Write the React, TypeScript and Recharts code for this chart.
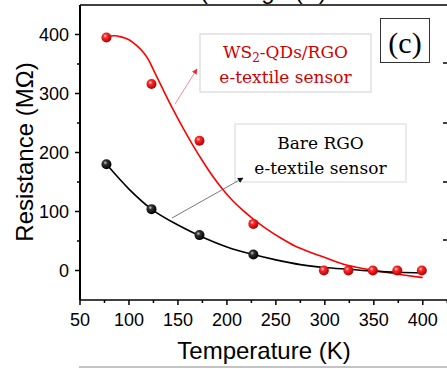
import { ComposedChart, Line, Scatter, XAxis, YAxis } from "recharts";

// measured points
const wsTemps = [77, 123, 172, 227, 299, 324, 349, 374, 399];
const wsRes = [395, 316, 220, 79, 0, 0, 0, 0, 0];
const rgoTemps = [77, 123, 172, 227];
const rgoRes = [180, 104, 60, 27];

// fit curves
const wsFitTemps = [77, 85, 92, 100, 108, 115, 120, 125, 135, 145, 155, 165, 175, 185, 195, 205, 215, 227, 240, 255, 270, 285, 300, 320, 340, 360, 380, 400];
const wsFitRes = [396, 398, 396, 391, 381, 369, 357, 340, 306, 273, 242, 213, 186, 161, 139, 120, 104, 87, 71, 55, 41, 31, 22, 10, 3, -2.5, -7.5, -12];
const rgoFitTemps = [77, 100, 123, 150, 172, 200, 227, 250, 275, 300, 325, 350, 375, 400];
const rgoFitRes = [180, 138, 104, 77, 59, 40, 27, 18, 10, 5, 2, -1, -3, -4];

const xTicks = [50, 75, 100, 125, 150, 175, 200, 225, 250, 275, 300, 325, 350, 375, 400, 425];
const yTicks = [0, 50, 100, 150, 200, 250, 300, 350, 400];
const topTicks = [1, 2, 3, 4, 5, 6, 7, 8, 9];

const zip = (xs: number[], ys: number[]) => xs.map((x, i) => ({ x, y: ys[i] }));
const wsPts = zip(wsTemps, wsRes);
const rgoPts = zip(rgoTemps, rgoRes);
const wsFit = zip(wsFitTemps, wsFitRes);
const rgoFit = zip(rgoFitTemps, rgoFitRes);

const sans = "'Liberation Sans', Arial, sans-serif";
const serif = "'DejaVu Serif', serif";

const BottomTick = (props: any) => {
  const { x, y, payload } = props;
  const major = payload.value % 50 === 0;
  return (
    <g>
      <line x1={x} x2={x} y1={y} y2={y + (major ? 5 : 3)} stroke="#000" strokeWidth={1.5} />
      {major && (
        <text x={x} y={y + 26} textAnchor="middle" fontSize={18} fontFamily={sans} fill="#000">
          {payload.value}
        </text>
      )}
    </g>
  );
};

const LeftTick = (props: any) => {
  const { x, y, payload } = props;
  const major = payload.value % 100 === 0;
  return (
    <g>
      <line x1={x} x2={x - (major ? 5 : 3)} y1={y} y2={y} stroke="#000" strokeWidth={1.5} />
      {major && (
        <text x={x - 11} y={y + 6.5} textAnchor="end" fontSize={18} fontFamily={sans} fill="#000">
          {payload.value}
        </text>
      )}
    </g>
  );
};

const TopTick = (props: any) => {
  const { x, y, payload } = props;
  const major = payload.value % 2 === 0;
  return <line x1={x} x2={x} y1={y} y2={y + (major ? 7 : 5)} stroke="#000" strokeWidth={1.5} />;
};

const Ball = (fill: string) => (props: any) =>
  <circle cx={props.cx} cy={props.cy} r={5} fill={fill} />;

export default function App() {
  return (
    <div style={{ position: "absolute", left: 0, top: 0, width: 447, height: 369, overflow: "hidden", background: "#fff" }}>
      <ComposedChart width={460} height={369} margin={{ top: 0, right: 0, bottom: 0, left: 0 }}>
        <defs>
          <radialGradient id="redBall" cx="38%" cy="35%" r="65%">
            <stop offset="0%" stopColor="#ffe0e0" />
            <stop offset="30%" stopColor="#ff2a2a" />
            <stop offset="100%" stopColor="#b00000" />
          </radialGradient>
          <radialGradient id="blackBall" cx="38%" cy="35%" r="65%">
            <stop offset="0%" stopColor="#d0d0d0" />
            <stop offset="30%" stopColor="#333" />
            <stop offset="100%" stopColor="#000" />
          </radialGradient>
        </defs>
        <XAxis
          dataKey="x"
          type="number"
          domain={[50, 438]}
          ticks={xTicks}
          interval={0}
          allowDataOverflow
          height={69}
          tickSize={0}
          tickMargin={0}
          tickLine={false}
          tick={BottomTick}
          axisLine={{ stroke: "#000", strokeWidth: 1.5 }}
        />
        <XAxis
          xAxisId="top"
          orientation="top"
          type="number"
          domain={[0, 380 / 37]}
          ticks={topTicks}
          interval={0}
          allowDataOverflow
          height={5}
          tickSize={0}
          tickMargin={0}
          tickLine={false}
          tick={TopTick}
          axisLine={{ stroke: "#000", strokeWidth: 1.5 }}
        />
        <YAxis
          type="number"
          domain={[-50, 450]}
          ticks={yTicks}
          interval={0}
          allowDataOverflow
          width={80}
          tickSize={0}
          tickMargin={0}
          tickLine={false}
          tick={LeftTick}
          axisLine={{ stroke: "#000", strokeWidth: 2 }}
        />
        <Line data={wsFit} dataKey="y" type="monotone" stroke="#ff0000" strokeWidth={1.6} dot={false} isAnimationActive={false} />
        <Line data={rgoFit} dataKey="y" type="monotone" stroke="#000" strokeWidth={1.6} dot={false} isAnimationActive={false} />
        <Scatter data={rgoPts} dataKey="y" shape={Ball("url(#blackBall)")} isAnimationActive={false} />
        <Scatter data={wsPts} dataKey="y" shape={Ball("url(#redBall)")} isAnimationActive={false} />
      </ComposedChart>
      <svg width={447} height={369} style={{ position: "absolute", left: 0, top: 0, pointerEvents: "none" }}>
        <defs>
          <marker id="arrRed" viewBox="0 0 10 10" refX="9" refY="5" markerWidth="7" markerHeight="7" orient="auto">
            <path d="M0,0 L10,5 L0,10 z" fill="#e83030" />
          </marker>
          <marker id="arrBlack" viewBox="0 0 10 10" refX="9" refY="5" markerWidth="7" markerHeight="7" orient="auto">
            <path d="M0,0 L10,5 L0,10 z" fill="#111" />
          </marker>
        </defs>
        <text x={200} y={-1} fontSize={24} fontFamily={sans} fill="#000">(Voltage (V)</text>
        <text transform="translate(33,152) rotate(-90)" textAnchor="middle" fontSize={24} fontFamily={sans} fill="#000">
          Resistance (MΩ)
        </text>
        <text x={264} y={359} textAnchor="middle" fontSize={24} fontFamily={sans} fill="#000">Temperature (K)</text>
        <line x1={79} x2={447} y1={367} y2={367} stroke="#888" strokeWidth={1} />

        <rect x={200} y={34} width={171} height={58} fill="#fff" stroke="#d0d0d0" strokeWidth={1} />
        <text x={285.5} y={58} textAnchor="middle" fontSize={17} fontFamily={serif} fill="#d00000">
          WS<tspan fontSize={12} dy={4}>2</tspan><tspan dy={-4}>-QDs/RGO</tspan>
        </text>
        <text x={285.5} y={83} textAnchor="middle" fontSize={17} fontFamily={serif} fill="#d00000">e-textile sensor</text>
        <line x1={175} y1={104} x2={197} y2={69} stroke="#f07070" strokeWidth={0.8} markerEnd="url(#arrRed)" />

        <rect x={235} y={124} width={171} height={58} fill="#fff" stroke="#d8d8d8" strokeWidth={1} />
        <text x={320.5} y={149} textAnchor="middle" fontSize={17} fontFamily={serif} fill="#000">Bare RGO</text>
        <text x={320.5} y={174} textAnchor="middle" fontSize={17} fontFamily={serif} fill="#000">e-textile sensor</text>
        <line x1={172} y1={218} x2={243} y2={178} stroke="#555" strokeWidth={0.8} markerEnd="url(#arrBlack)" />

        <rect x={380.5} y={18.5} width={49} height={44} fill="#fff" stroke="#333" strokeWidth={1} />
        <text x={405} y={53} textAnchor="middle" fontSize={30} fontFamily="'Liberation Serif', serif" fill="#000">(c)</text>

        {[63, 123, 182, 240].map((y) => (
          <line key={y} x1={443} x2={447} y1={y} y2={y} stroke="#000" strokeWidth={1.5} />
        ))}
      </svg>
    </div>
  );
}
